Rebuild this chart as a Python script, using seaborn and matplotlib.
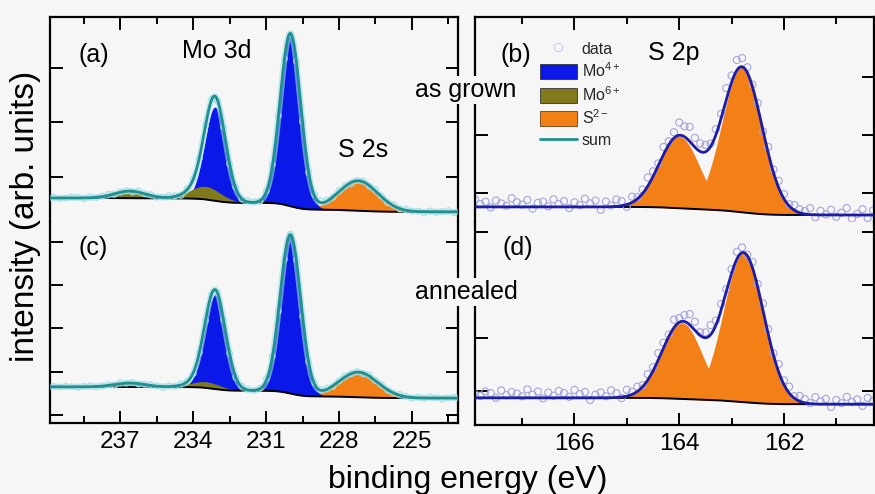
import numpy as np
import matplotlib
matplotlib.use("Agg")
import matplotlib.pyplot as plt
from matplotlib.lines import Line2D
from matplotlib.patches import Patch
import seaborn as sns

BG = '#f6f6f6'
sns.set_theme(style="ticks", rc={'axes.facecolor': BG, 'figure.facecolor': BG})
plt.rcParams['font.family'] = ['Liberation Sans', 'DejaVu Sans']
plt.rcParams['mathtext.fontset'] = 'custom'
plt.rcParams['mathtext.rm'] = 'Liberation Sans'
plt.rcParams['mathtext.it'] = 'Liberation Sans:italic'
plt.rcParams['mathtext.bf'] = 'Liberation Sans:bold'

C_MO4 = '#0a18e8'
C_MO6 = '#807a1a'
C_S = '#f38016'
C_SUM_MO = '#1f8f8f'
C_DATA_MO = '#a6e0e8'
C_SUM_S = '#1c1ca8'
C_DATA_S = '#a4a4da'

# ---------------- Mo 3d / S 2s region (panels a, c) ----------------
mo_energy = np.round(np.arange(223.0, 240.01, 0.25), 2)      # measurement grid (eV)
mo4_pos = [230.0, 233.1]
mo4_fwhm = [1.0, 1.0]
mo4_height_a = [3.17, 1.72]
mo4_height_c = [3.67, 2.18]
mo6_pos = [233.5, 236.6]
mo6_fwhm = [1.5, 1.5]
mo6_height_a = [0.24, 0.13]
mo6_height_c = [0.14, 0.09]
s2s_pos = [227.2]
s2s_fwhm = [1.9]
s2s_height_a = [0.55]
s2s_height_c = [0.58]
bg_mo_a = [0.36, 0.615]     # background at low / high binding energy
bg_mo_c = [1.39, 1.65]
mo_noise_a = [0.02, -0.03, 0.04, 0.01, -0.02, 0.03, -0.04, 0.02, 0.00, 0.03, -0.01, 0.04, -0.03, 0.02, 0.05, -0.02, 0.03, 0.01, -0.04, 0.02,
              0.04, -0.01, 0.03, 0.06, 0.05, -0.02, 0.01, 0.03, -0.03, 0.02, 0.04, 0.07, 0.03, -0.02, 0.02, 0.04, -0.01, 0.03, 0.00, 0.05,
              -0.03, 0.02, 0.04, -0.02, 0.01, 0.03, -0.04, 0.02, 0.05, 0.01, -0.02, 0.03, 0.00, 0.04, -0.03, 0.02, 0.01, -0.02, 0.04, 0.02,
              -0.01, 0.03, -0.03, 0.02, 0.04, 0.00, -0.02, 0.03, 0.01]
mo_noise_c = [-0.02, 0.03, 0.01, -0.04, 0.02, 0.05, -0.01, 0.03, -0.03, 0.02, 0.04, 0.00, -0.02, 0.03, 0.01, 0.05, -0.03, 0.02, -0.01, 0.04,
              0.02, -0.03, 0.05, 0.03, 0.06, 0.01, -0.02, 0.04, 0.02, -0.03, 0.03, 0.05, 0.08, 0.02, -0.01, 0.03, 0.04, -0.02, 0.02, 0.01,
              0.04, -0.02, 0.03, 0.00, -0.03, 0.02, 0.05, -0.01, 0.03, -0.04, 0.02, 0.04, 0.01, -0.02, 0.03, 0.00, 0.05, -0.03, 0.02, 0.01,
              -0.02, 0.04, 0.02, -0.03, 0.01, 0.03, -0.01, 0.02, 0.00]

# ---------------- S 2p region (panels b, d) ----------------
s_energy = np.round(np.arange(160.3, 168.01, 0.1), 2)
s2p_fwhm = [0.9, 0.9]
s2p_pos_b = [162.8, 164.0]
s2p_height_b = [2.50, 1.24]
s2p_pos_d = [162.77, 163.95]
s2p_height_d = [2.81, 1.44]
bg_s_b = [0.62, 0.76]
bg_s_d = [0.75, 0.87]
s_noise_b = [0.08, -0.05, 0.10, 0.02, -0.06, 0.12, 0.04, -0.03, 0.09, 0.01, 0.07, -0.04, 0.11, 0.05,
             0.06, 0.09, 0.03, 0.08, 0.12, 0.05, 0.10, -0.02, 0.07, 0.04, 0.09, 0.15, 0.18, 0.12, 0.20, 0.08,
             0.10, 0.05, 0.12, 0.14, 0.16, 0.25, 0.18, 0.22, 0.10, 0.06, 0.13, 0.04, 0.09, 0.15, 0.07, 0.03,
             0.10, -0.04, 0.08, 0.12, 0.02, 0.09, -0.05, 0.11, 0.06, 0.14, 0.03, 0.08, -0.02, 0.10, 0.05, 0.13,
             0.01, 0.09, 0.07, -0.03, 0.12, 0.04, 0.08, 0.15, 0.02, 0.06, 0.11, -0.01, 0.09, 0.05, 0.13, 0.03]
s_noise_d = [0.06, 0.12, -0.03, 0.09, 0.04, 0.14, 0.02, 0.08, -0.05, 0.10, 0.05, 0.13, 0.01, 0.07,
             0.10, 0.04, 0.12, 0.08, 0.15, 0.03, 0.09, 0.13, 0.06, 0.11, 0.02, 0.10, 0.14, 0.08, 0.05, 0.12,
             0.09, 0.18, 0.10, 0.06, 0.16, 0.20, 0.12, 0.08, 0.15, 0.04, 0.10, 0.13, 0.07, 0.11, 0.03, 0.09,
             0.05, 0.12, -0.02, 0.08, 0.14, 0.03, 0.10, 0.06, -0.04, 0.11, 0.07, 0.15, 0.02, 0.09, 0.13, 0.04,
             0.10, -0.01, 0.12, 0.06, 0.16, 0.03, 0.08, 0.11, 0.05, 0.14, 0.00, 0.09, 0.12, 0.04, 0.07, 0.10]

mo_ticks = [237, 234, 231, 228, 225]
mo_minor = [238.5, 235.5, 232.5, 229.5, 226.5, 223.5]
s_ticks = [166, 164, 162]
s_minor = [167, 165, 163, 161]

assert len(mo_noise_a) == len(mo_energy) == len(mo_noise_c)
assert len(s_noise_b) == len(s_energy) == len(s_noise_d)


def peaks(E, pos, height, fwhm):
    return [h * np.exp(-4 * np.log(2) * (E - p) ** 2 / w ** 2) for p, h, w in zip(pos, height, fwhm)]


def shirley(total, lo_hi):
    c = np.cumsum(total)
    return lo_hi[0] + (lo_hi[1] - lo_hi[0]) * c / c[-1]


fig = plt.figure(figsize=(8.75, 4.94), dpi=100)
W, H = 875.0, 494.0


def add_ax(x0, x1, ytop, ybot):
    return fig.add_axes([x0 / W, 1 - ybot / H, (x1 - x0) / W, (ybot - ytop) / H])


axA = add_ax(50, 458, 17, 222)
axC = add_ax(50, 458, 222, 423)
axB = add_ax(475, 874.5, 17, 222)
axD = add_ax(475, 874.5, 222, 425)


def draw_mo(ax, h4, h6, hs, bgp, noise):
    E = np.linspace(223.0, 240.0, 1701)
    c4 = peaks(E, mo4_pos, h4, mo4_fwhm)
    c6 = peaks(E, mo6_pos, h6, mo6_fwhm)
    cs = peaks(E, s2s_pos, hs, s2s_fwhm)
    total = sum(c4) + sum(c6) + sum(cs)
    bg = shirley(total, bgp)
    for c in cs:
        ax.fill_between(E, bg, bg + c, color=C_S, lw=0, zorder=1)
    for c in c4:
        ax.fill_between(E, bg, bg + c, color=C_MO4, lw=0, zorder=1.1)
    for c in c6:
        ax.fill_between(E, bg, bg + c, color=C_MO6, lw=0, zorder=1.2)
    s = bg + total
    data = np.interp(mo_energy, E, s) + 0.6 * np.array(noise)
    sns.scatterplot(x=mo_energy, y=data, ax=ax, s=16, facecolor='none', edgecolor=C_DATA_MO,
                    linewidth=0.8, zorder=2.5)
    sns.lineplot(x=E, y=bg, ax=ax, color='black', lw=1.4, zorder=2)
    sns.lineplot(x=E, y=s, ax=ax, color=C_DATA_MO, lw=4.5, alpha=0.6, zorder=2.8)
    sns.lineplot(x=E, y=s, ax=ax, color=C_SUM_MO, lw=2.0, zorder=3)
    ax.set_xlim(239.9, 223.1)


def draw_s(ax, pos, h, bgp, noise):
    E = np.linspace(160.2, 168.0, 781)
    cs = peaks(E, pos, h, s2p_fwhm)
    total = sum(cs)
    bg = shirley(total, bgp)
    for c in cs:
        ax.fill_between(E, bg, bg + c, color=C_S, lw=0, zorder=1)
    s = bg + total
    data = np.interp(s_energy, E, s) + np.array(noise)
    sns.scatterplot(x=s_energy, y=data, ax=ax, s=26, facecolor='none', edgecolor=C_DATA_S,
                    linewidth=0.8, zorder=2.5)
    sns.lineplot(x=E, y=bg, ax=ax, color='black', lw=1.4, zorder=2)
    sns.lineplot(x=E, y=s, ax=ax, color=C_SUM_S, lw=2.0, zorder=3)
    ax.set_xlim(167.9, 160.27)


draw_mo(axA, mo4_height_a, mo6_height_a, s2s_height_a, bg_mo_a, mo_noise_a)
draw_mo(axC, mo4_height_c, mo6_height_c, s2s_height_c, bg_mo_c, mo_noise_c)
draw_s(axB, s2p_pos_b, s2p_height_b, bg_s_b, s_noise_b)
draw_s(axD, s2p_pos_d, s2p_height_d, bg_s_d, s_noise_d)

axA.set_ylim(0.174, 3.936)
axC.set_ylim(0.815, 5.458)
axB.set_ylim(0.5, 4.034)
axD.set_ylim(0.358, 4.189)
axA.set_yticks([1, 2, 3])
axC.set_yticks([1, 2, 3, 4, 5])
axB.set_yticks([1, 2, 3])
axD.set_yticks([1, 2, 3, 4])

for ax, top in [(axA, True), (axC, False), (axB, True), (axD, False)]:
    if ax in (axA, axC):
        ax.set_xticks(mo_ticks)
        ax.set_xticks(mo_minor, minor=True)
    else:
        ax.set_xticks(s_ticks)
        ax.set_xticks(s_minor, minor=True)
    for sp in ax.spines.values():
        sp.set_linewidth(1.6)
        sp.set_color('black')
        sp.set_visible(True)
    ax.set_xlabel('')
    ax.set_ylabel('')
    ax.tick_params(axis='y', which='both', direction='in', left=True, right=True,
                   labelleft=False, labelright=False, length=9, width=1.4, color='black')
    if top:
        ax.spines['bottom'].set_visible(False)
        ax.tick_params(axis='x', which='both', direction='in', top=True, bottom=False,
                       labeltop=False, labelbottom=False, width=1.4, color='black')
        ax.tick_params(axis='x', which='major', length=9)
        ax.tick_params(axis='x', which='minor', length=5)
    else:
        ax.spines['top'].set_visible(False)
        ax.tick_params(axis='x', which='both', direction='in', top=False, bottom=True,
                       labelbottom=True, width=1.4, color='black', labelsize=17.5, pad=6,
                       labelcolor='black')
        ax.tick_params(axis='x', which='major', length=9)
        ax.tick_params(axis='x', which='minor', length=5)


def ftext(x, y, s, size=18, **kw):
    return fig.text(x / W, 1 - y / H, s, fontsize=size, color='black', va='baseline', **kw)


ftext(78, 62, '(a)')
ftext(182, 58.5, 'Mo 3d')
ftext(338, 157, 'S 2s')
ftext(500, 62, '(b)')
ftext(648, 60, 'S 2p')
ftext(78, 255, '(c)')
ftext(502, 255, '(d)')
box = dict(facecolor=BG, edgecolor='none', pad=1.5)
ftext(466, 97, 'as grown', ha='center', bbox=box, zorder=10)
ftext(466, 299, 'annealed', ha='center', bbox=box, zorder=10)
ftext(467.5, 488, 'binding energy (eV)', size=23, ha='center')
fig.text(26 / W, 1 - 216 / H, 'intensity (arb. units)', fontsize=24, rotation=90,
         ha='center', va='center', color='black')

handles = [
    Line2D([], [], marker='o', ls='none', mfc='none', mec='#d0d0ee', ms=6, mew=0.8),
    Patch(facecolor=C_MO4, edgecolor='#333333', lw=0.6),
    Patch(facecolor=C_MO6, edgecolor='#333333', lw=0.6),
    Patch(facecolor=C_S, edgecolor='#704010', lw=0.6),
    Line2D([], [], color=C_SUM_MO, lw=2),
]
labels = ['data', r'Mo$^{\mathrm{4+}}$', r'Mo$^{\mathrm{6+}}$', r'S$^{\mathrm{2-}}$', 'sum']
axB.legend(handles, labels, loc='upper left', bbox_to_anchor=(0.163, 0.883), frameon=False,
           fontsize=11.5, handlelength=2.3, handleheight=1.05, labelspacing=0.3,
           handletextpad=0.3, borderpad=0, borderaxespad=0)

fig.savefig('out.png', dpi=100, facecolor=BG)
